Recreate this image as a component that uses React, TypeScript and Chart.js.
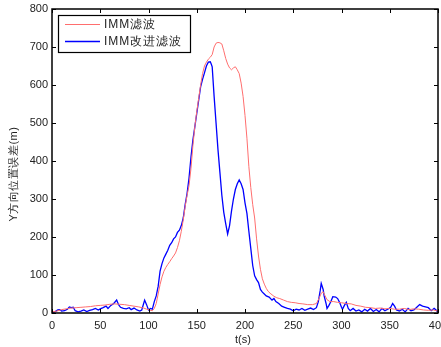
import React, { useEffect, useRef } from "react";
import { Chart, registerables } from "chart.js";

Chart.register(...registerables);

const redT = [0,5,10,15,20,25,30,35,40,45,50,55,60,65,70,75,80,85,90,95,98,101,104,106,108,110,112,114,116,118,120,122,124,126,128,130,132,134,136,138,140,142,144,146,148,150,152,154,156,158,160,162,164,166,168,170,172,174,176,178,180,182,184,186,188,190,192,194,196,198,200,202,204,206,208,210,212,214,216,218,220,222,224,226,228,230,233,236,240,244,248,252,256,260,265,270,274,277,279,281,283,285,288,292,296,300,305,310,315,320,325,330,335,340,345,350,355,360,365,370,375,380,385,390,395,400];
const redVals = [3,5,9,11,13,14,15,16,17,19,20,21,23,24,23,22,20,18,16,13,10,8,6,12,25,50,75,95,110,120,128,135,143,150,158,172,190,215,245,280,310,335,380,440,490,530,565,600,630,650,660,668,673,680,700,710,712,711,708,690,670,655,645,640,645,648,640,630,605,570,520,460,385,330,285,250,195,150,115,90,76,65,57,52,48,44,40,38,34,30,28,27,25,24,22,22,25,40,52,56,45,35,30,30,28,27,25,24,20,18,15,14,12,13,11,12,10,10,12,9,11,10,8,7,8,5];

const blueT = [0,3,6,8,10,13,16,18,20,22,24,27,30,33,36,39,42,45,48,50,53,56,58,61,64,67,69,71,74,77,80,82,85,88,91,93,96,98,100,102,104,106,108,110,112,114,116,118,120,122,124,126,128,130,132,134,136,138,140,142,144,146,148,150,152,154,156,158,160,162,164,165,166,168,170,172,174,176,178,180,182,184,186,188,190,192,194,196,198,200,202,204,206,208,210,212,214,216,218,220,222,225,228,230,232,235,238,241,244,247,250,253,256,259,262,265,268,271,274,276,278,279,281,282,284,285,287,289,291,294,296,298,300,301,303,305,307,309,312,315,318,321,324,327,330,333,336,339,342,345,348,351,353,355,357,360,363,366,369,372,375,378,381,384,387,390,393,396,398,400];
const blueVals = [2,3,8,9,5,6,10,16,14,15,6,3,5,8,4,7,9,12,8,11,14,18,12,20,25,34,22,15,12,11,14,9,13,8,5,8,34,22,8,12,10,30,45,70,110,130,145,155,165,178,185,195,200,212,218,230,250,285,315,355,410,455,490,525,560,595,615,632,650,660,661,655,648,570,500,430,370,310,265,235,208,230,268,300,325,340,350,340,325,290,262,215,170,125,98,88,80,62,55,50,45,42,34,38,30,25,18,15,12,10,6,10,8,12,7,10,13,9,14,30,60,78,62,45,25,12,20,30,43,42,38,28,15,10,20,28,12,6,12,5,8,3,10,5,12,4,9,3,12,6,10,15,25,18,8,5,10,3,12,6,8,15,22,18,16,14,6,12,8,2];

const xTicks = [0, 50, 100, 150, 200, 250, 300, 350, 400];
const yTicks = [0, 100, 200, 300, 400, 500, 600, 700, 800];
const seriesNames = ["IMM滤波", "IMM改进滤波"];
const xTitle = "t(s)";
const yTitle = "Y方向位置误差(m)";

const RED = "rgb(255,110,110)";
const BLUE = "rgb(0,0,255)";
const FONT = "Liberation Sans, Arial, sans-serif";

const framePlugin = {
  id: "frame",
  afterDraw(chart: any) {
    const { ctx, chartArea: a, scales } = chart;
    const xs = scales.x;
    const ys = scales.y;
    ctx.save();
    ctx.strokeStyle = "#000";
    ctx.lineWidth = 1.5;
    ctx.strokeRect(a.left, a.top, a.right - a.left, a.bottom - a.top);
    ctx.lineWidth = 1;
    const L = 4;
    ctx.beginPath();
    xTicks.forEach((v) => {
      const px = Math.round(xs.getPixelForValue(v)) + 0.5;
      ctx.moveTo(px, a.bottom);
      ctx.lineTo(px, a.bottom - L);
      ctx.moveTo(px, a.top);
      ctx.lineTo(px, a.top + L);
    });
    yTicks.forEach((v) => {
      const py = Math.round(ys.getPixelForValue(v)) + 0.5;
      ctx.moveTo(a.left, py);
      ctx.lineTo(a.left + L, py);
      ctx.moveTo(a.right, py);
      ctx.lineTo(a.right - L, py);
    });
    ctx.stroke();

    // legend
    const lx = 58.5, ly = 15.5, lw = 132, lh = 37;
    ctx.fillStyle = "#fff";
    ctx.fillRect(lx, ly, lw, lh);
    ctx.strokeStyle = "#000";
    ctx.lineWidth = 1.2;
    ctx.strokeRect(lx, ly, lw, lh);
    const rows = [
      { c: RED, w: 1, y: 24.5, t: seriesNames[0] },
      { c: BLUE, w: 1.3, y: 41.5, t: seriesNames[1] },
    ];
    rows.forEach((r) => {
      ctx.strokeStyle = r.c;
      ctx.lineWidth = r.w;
      ctx.beginPath();
      ctx.moveTo(65, r.y);
      ctx.lineTo(100, r.y);
      ctx.stroke();
      ctx.fillStyle = "#222";
      ctx.font = `12px ${FONT}`;
      ctx.textBaseline = "middle";
      ctx.textAlign = "left";
      (ctx as any).letterSpacing = "1px";
      ctx.fillText(r.t, 104, r.y + 0.5);
      (ctx as any).letterSpacing = "0px";
    });

    // titles
    ctx.fillStyle = "#222";
    ctx.font = `11px ${FONT}`;
    ctx.textAlign = "center";
    ctx.textBaseline = "middle";
    ctx.fillText(xTitle, (a.left + a.right) / 2 - 2, 340);
    ctx.save();
    ctx.translate(14, 174);
    ctx.rotate(-Math.PI / 2);
    (ctx as any).letterSpacing = "0.5px";
    ctx.fillText(yTitle, 0, 0);
    ctx.restore();
    ctx.restore();
  },
};

export default function App() {
  const ref = useRef<HTMLCanvasElement | null>(null);
  useEffect(() => {
    if (!ref.current) return;
    const chart = new Chart(ref.current, {
      type: "line",
      data: {
        datasets: [
          {
            label: seriesNames[0],
            data: redT.map((t, i) => ({ x: t, y: redVals[i] })),
            borderColor: RED,
            borderWidth: 1,
            pointRadius: 0,
            tension: 0,
          },
          {
            label: seriesNames[1],
            data: blueT.map((t, i) => ({ x: t, y: blueVals[i] })),
            borderColor: BLUE,
            borderWidth: 1.3,
            pointRadius: 0,
            tension: 0,
          },
        ],
      },
      options: {
        responsive: false,
        animation: false,
        layout: { padding: { left: 0, right: 3, top: 9, bottom: 0 } },
        plugins: { legend: { display: false }, tooltip: { enabled: false } },
        scales: {
          x: {
            type: "linear",
            min: 0,
            max: 400,
            afterFit: (s: any) => { s.height = 34; s.paddingLeft = 0; s.paddingRight = 0; },
            afterBuildTicks: (s: any) => { s.ticks = xTicks.map((v) => ({ value: v })); },
            grid: { display: false, drawTicks: false },
            border: { display: false },
            ticks: { padding: 6, color: "#222", font: { family: FONT, size: 11 }, maxRotation: 0, autoSkip: false },
          },
          y: {
            type: "linear",
            min: 0,
            max: 800,
            afterFit: (s: any) => { s.width = 52; s.paddingTop = 0; s.paddingBottom = 0; },
            afterBuildTicks: (s: any) => { s.ticks = yTicks.map((v) => ({ value: v })); },
            grid: { display: false, drawTicks: false },
            border: { display: false },
            ticks: { padding: 4, color: "#222", font: { family: FONT, size: 11 }, autoSkip: false },
          },
        },
      },
      plugins: [framePlugin],
    });
    return () => chart.destroy();
  }, []);
  return (
    <div style={{ position: "absolute", left: 0, top: 0, width: 441, height: 347, background: "#fff" }}>
      <canvas ref={ref} width={441} height={347} />
    </div>
  );
}
